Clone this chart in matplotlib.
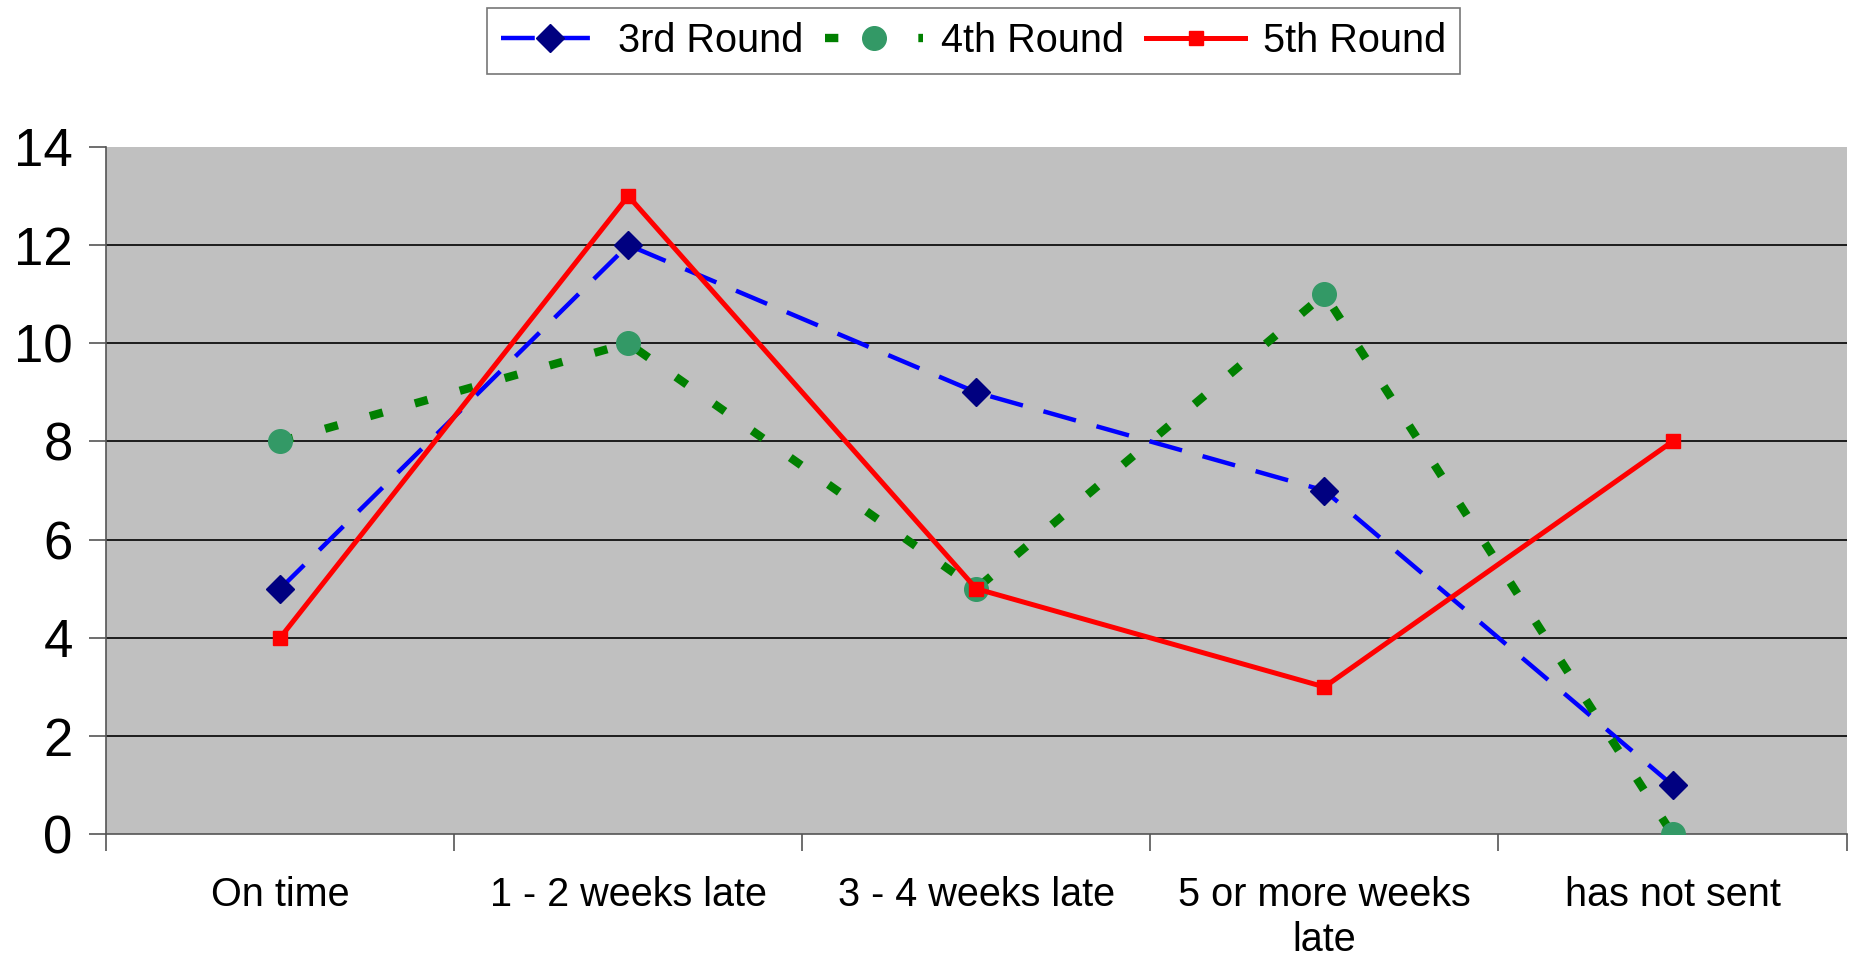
import matplotlib.pyplot as plt

# === Datos ===
categorias = ["On time", "1 - 2 weeks late", "3 - 4 weeks late",
              "5 or more weeks\nlate", "has not sent"]
ronda_3 = [5, 12, 9, 7, 1]
ronda_4 = [8, 10, 5, 11, 0]
ronda_5 = [4, 13, 5, 3, 8]
y_ticks = [0, 2, 4, 6, 8, 10, 12, 14]

plt.rcParams['font.family'] = ['Liberation Sans', 'DejaVu Sans']

fig = plt.figure(figsize=(18.54, 9.6), dpi=100)
ax = fig.add_axes([0.0572, 0.131, 0.9388, 0.716])
ax.set_facecolor("#C0C0C0")

x = list(range(len(categorias)))

ax.plot(x, ronda_3, color="#0000FF", lw=3.2, dashes=(7.6, 4.8),
        dash_capstyle="butt", marker="D", markersize=14,
        markerfacecolor="#000080", markeredgecolor="#000080",
        label="3rd Round", zorder=3)
ax.plot(x, ronda_4, color="#008000", lw=6, dashes=(1.6, 4),
        dash_capstyle="butt", marker="o", markersize=17,
        markerfacecolor="#339966", markeredgecolor="#339966",
        label="4th Round", zorder=4)
ax.plot(x, ronda_5, color="#FF0000", lw=3.6, marker="s", markersize=10,
        markerfacecolor="#FF0000", markeredgecolor="#FF0000",
        label="5th Round", zorder=5)

ax.set_xlim(-0.5, len(categorias) - 0.5)
ax.set_ylim(0, 14)
ax.set_yticks(y_ticks)
ax.tick_params(axis="y", labelsize=38, length=12, width=1.2,
               color="#555555", pad=12)

ax.set_xticks(x)
ax.set_xticklabels(categorias, fontsize=28.5, linespacing=1.25)
ax.tick_params(axis="x", which="major", length=0, pad=30)
ax.set_xticks([i - 0.5 for i in range(len(categorias) + 1)], minor=True)
ax.tick_params(axis="x", which="minor", length=12, width=1.2,
               color="#555555")

for v in y_ticks[1:-1]:
    ax.axhline(v, color="black", lw=1.2, zorder=1)

for lado in ["top", "right"]:
    ax.spines[lado].set_visible(False)
for lado in ["left", "bottom"]:
    ax.spines[lado].set_color("#555555")
    ax.spines[lado].set_linewidth(1.2)

leg = fig.legend(loc="center", bbox_to_anchor=(0.525, 0.957), ncol=3,
                 fontsize=28.5, frameon=True, fancybox=False,
                 handlelength=2.5, handletextpad=0.45, columnspacing=0.55,
                 borderpad=0.35, edgecolor="#555555")
leg.get_frame().set_linewidth(1.2)

plt.savefig("out.png", dpi=100)
plt.close()
